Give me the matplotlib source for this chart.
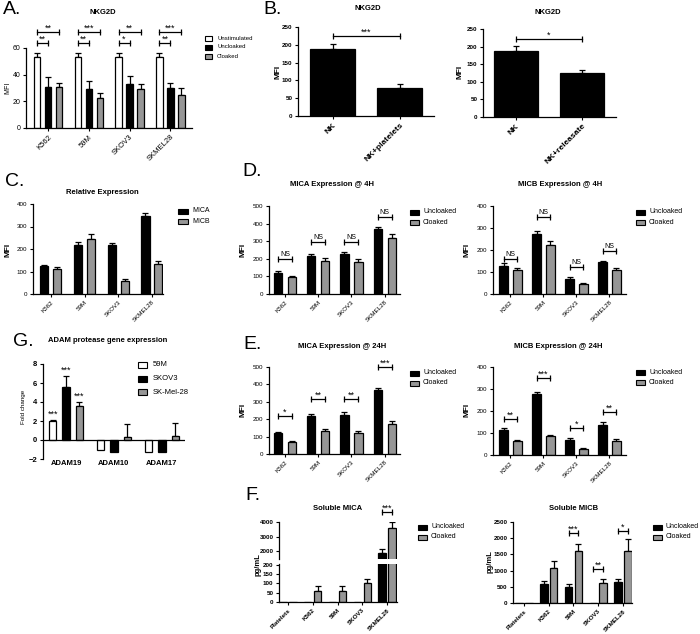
import numpy as np
import matplotlib.pyplot as plt
from matplotlib.patches import Rectangle

plt.rcParams['font.family'] = ['Liberation Sans', 'DejaVu Sans']
plt.rcParams['axes.linewidth'] = 0.9

W, H = 700, 634
GRAY = '#969696'

# ---------------- data ----------------
cells = ['K562', '59M', 'SKOV3', 'SKMEL28']
leg2 = ['Uncloaked', 'Cloaked']

# A. NKG2D
a_unstim = [53, 53, 53, 53]
a_unstim_err = [3.5, 3.5, 3.5, 3.5]
a_uncl = [31, 29.5, 33, 30]
a_uncl_err = [7, 5.5, 6, 3.5]
a_cl = [31, 22.5, 29, 25]
a_cl_err = [3, 4, 4, 5]
a_sig_low = ['**', '**', '*', '**']
a_sig_high = ['**', '***', '**', '***']

# B. NKG2D
b1_cats = ['NK', 'NK+platelets']
b1_vals = [188, 80]
b1_err = [13, 10]
b2_cats = ['NK', 'NK+releasate']
b2_vals = [188, 125]
b2_err = [13, 9]

# C. relative expression
c_mica = [123, 220, 218, 347]
c_mica_err = [7, 12, 10, 15]
c_micb = [112, 245, 60, 132]
c_micb_err = [6, 22, 6, 13]

# D. 4H
d_mica_uncl = [118, 218, 225, 368]
d_mica_uncl_err = [10, 12, 15, 10]
d_mica_cl = [95, 185, 180, 318]
d_mica_cl_err = [7, 18, 17, 25]
d_mica_sig = ['NS', 'NS', 'NS', 'NS']
d_mica_sig_y = [200, 295, 295, 440]
d_micb_uncl = [128, 275, 68, 147]
d_micb_uncl_err = [12, 13, 10, 5]
d_micb_cl = [108, 222, 47, 107]
d_micb_cl_err = [12, 17, 5, 13]
d_micb_sig = ['NS', 'NS', 'NS', 'NS']
d_micb_sig_y = [160, 350, 123, 195]

# E. 24H
e_mica_uncl = [118, 218, 225, 368]
e_mica_uncl_err = [8, 12, 17, 10]
e_mica_cl = [68, 133, 122, 172]
e_mica_cl_err = [8, 12, 8, 15]
e_mica_sig = ['*', '**', '**', '***']
e_mica_sig_y = [218, 316, 316, 500]
e_micb_uncl = [115, 275, 68, 137]
e_micb_uncl_err = [10, 13, 10, 12]
e_micb_cl = [62, 86, 26, 65]
e_micb_cl_err = [5, 5, 4, 8]
e_micb_sig = ['**', '***', '*', '**']
e_micb_sig_y = [164, 350, 123, 195]

# G. ADAM protease gene expression
g_genes = ['ADAM19', 'ADAM10', 'ADAM17']
g_59m = [2.0, -1.1, -1.3]
g_59m_err = [0.1, 0, 0]
g_skov3 = [5.6, -1.3, -1.3]
g_skov3_err = [1.1, 0, 0]
g_skmel = [3.6, 0.3, 0.4]
g_skmel_err = [0.35, 1.35, 1.4]
g_sig = ['***', '', '']

# F. soluble MICA / MICB (pg/mL)
f_cats = ['Platelets', 'K562', '59M', 'SKOV3', 'SKMEL28']
fa_uncl = [0, 0, 0, 0, 1860]
fa_uncl_err = [0, 0, 0, 0, 280]
fa_cl = [0, 60, 60, 103, 3590]
fa_cl_err = [0, 25, 25, 20, 410]
fb_uncl = [0, 586, 494, 0, 648]
fb_uncl_err = [0, 95, 92, 0, 92]
fb_cl = [0, 1080, 1605, 617, 1605]
fb_cl_err = [0, 216, 215, 123, 370]
fb_sig = ['', '', '***', '**', '*']
fb_sig_y = [0, 0, 2160, 1050, 2220]

STAR_FS = 6.5

fig = plt.figure(figsize=(W / 100, H / 100), dpi=100)


def px_ax(x0, x1, y_top, y_bot):
    return fig.add_axes([x0 / W, 1 - y_bot / H, (x1 - x0) / W, (y_bot - y_top) / H])


def ftext(x, y, s, **kw):
    fig.text(x / W, 1 - y / H, s, **kw)


def bar_set(ax, x, vals, errs, color, width):
    x = np.asarray(x, float)
    vals = np.asarray(vals, float)
    errs = np.asarray(errs, float)
    ax.bar(x, vals, width, color=color, edgecolor='black', linewidth=0.9, zorder=2)
    m = errs > 0
    if m.any():
        ax.errorbar(x[m], vals[m], yerr=[np.zeros(m.sum()), errs[m]], fmt='none',
                    ecolor='black', elinewidth=0.9, capsize=2, capthick=0.9, zorder=1)


def bracket(ax, x1, x2, y, label, fs=None):
    if fs is None:
        fs = 5 if label == 'NS' else STAR_FS
    ax.plot([x1, x2], [y, y], color='black', lw=0.9, marker='|', ms=4, mew=0.9,
            clip_on=False, zorder=3)
    ax.annotate(label, ((x1 + x2) / 2, y), xytext=(0, 0.5 if label == 'NS' else -0.5),
                textcoords='offset points', ha='center', va='bottom', fontsize=fs,
                annotation_clip=False)


def style(ax, xlim, ylim, yticks, cats, fs=4.5, xfs=None, bold=False):
    ax.spines[['top', 'right']].set_visible(False)
    ax.set_xlim(xlim)
    ax.set_ylim(ylim)
    ax.set_yticks(yticks)
    ax.tick_params(length=2.5, width=0.8, labelsize=fs, pad=1.5)
    ax.set_xticks(range(len(cats)))
    ax.set_xticklabels(cats, rotation=45, ha='right', va='top', rotation_mode='anchor',
                       fontsize=xfs or fs, fontweight='bold' if bold else 'normal')
    if bold:
        for t in ax.get_yticklabels():
            t.set_fontweight('bold')


def key(x, y, labels, colors, dy=10, fs=5, w=9, h=5, gap=4):
    for i, (lab, c) in enumerate(zip(labels, colors)):
        yc = y + i * dy
        fig.add_artist(Rectangle((x / W, 1 - (yc + h / 2) / H), w / W, h / H,
                                 transform=fig.transFigure, facecolor=c,
                                 edgecolor='black', lw=0.8))
        ftext(x + w + gap, yc, lab, fontsize=fs, va='center', ha='left')


def pair_panel(ax, uncl, uncl_err, cl, cl_err, sig, sig_y, xlim, ylim, yticks, off=0.21, w=0.25):
    x = np.arange(len(uncl))
    bar_set(ax, x - off, uncl, uncl_err, 'black', w)
    bar_set(ax, x + off, cl, cl_err, GRAY, w)
    style(ax, xlim, ylim, yticks, cells)
    for i in range(len(sig)):
        if sig[i]:
            bracket(ax, i - off, i + off, sig_y[i], sig[i])


# ---------------- A ----------------
ax = px_ax(26, 192, 48, 128)
x = np.arange(4)
bar_set(ax, x - 0.27, a_unstim, a_unstim_err, 'white', 0.16)
bar_set(ax, x, a_uncl, a_uncl_err, 'black', 0.16)
bar_set(ax, x + 0.27, a_cl, a_cl_err, GRAY, 0.16)
style(ax, (-0.54, 3.53), (0, 60), [0, 20, 40, 60], cells, fs=5, xfs=5.5)
for i in range(4):
    bracket(ax, i - 0.27, i, 63.5, a_sig_low[i])
    bracket(ax, i - 0.27, i + 0.27, 72, a_sig_high[i])
ftext(103, 13, 'NKG2D', fontsize=5.5, fontweight='bold', ha='center', va='center')
ftext(8, 88, 'MFI', fontsize=5, rotation=90, ha='center', va='center')
key(205, 38, ['Unstimulated', 'Uncloaked', 'Cloaked'], ['white', 'black', GRAY],
    dy=9, fs=4.3, w=7, h=5, gap=5)

# ---------------- B ----------------
ax = px_ax(298, 434, 27, 116)
bar_set(ax, [0, 1], b1_vals, b1_err, 'black', 0.67)
style(ax, (-0.52, 1.51), (0, 250), range(0, 251, 50), b1_cats, fs=4.5, xfs=6, bold=True)
bracket(ax, 0, 1, 225, '***')
ftext(368, 9, 'NKG2D', fontsize=5.5, fontweight='bold', ha='center', va='center')
ftext(278, 72, 'MFI', fontsize=6, fontweight='bold', rotation=90, ha='center', va='center')

ax = px_ax(483, 616, 29, 117)
bar_set(ax, [0, 1], b2_vals, b2_err, 'black', 0.67)
style(ax, (-0.5, 1.52), (0, 250), range(0, 251, 50), b2_cats, fs=4.5, xfs=6, bold=True)
bracket(ax, 0, 1, 221, '*')
ftext(548, 12, 'NKG2D', fontsize=5.5, fontweight='bold', ha='center', va='center')
ftext(460, 72, 'MFI', fontsize=6, fontweight='bold', rotation=90, ha='center', va='center')

# ---------------- C ----------------
ax = px_ax(33, 163, 204, 294)
x = np.arange(4)
bar_set(ax, x - 0.19, c_mica, c_mica_err, 'black', 0.24)
bar_set(ax, x + 0.19, c_micb, c_micb_err, GRAY, 0.24)
style(ax, (-0.53, 3.33), (0, 400), range(0, 401, 100), cells)
ftext(102, 192, 'Relative Expression', fontsize=5.5, fontweight='bold', ha='center', va='center')
ftext(8, 250, 'MFI', fontsize=6, fontweight='bold', rotation=90, ha='center', va='center')
key(178, 211, ['MICA', 'MICB'], ['black', GRAY], dy=10.5, fs=5, w=10)

# ---------------- D ----------------
ax = px_ax(269, 400, 206, 294)
pair_panel(ax, d_mica_uncl, d_mica_uncl_err, d_mica_cl, d_mica_cl_err, d_mica_sig,
           d_mica_sig_y, (-0.48, 3.46), (0, 500), range(0, 501, 100))
ftext(332, 185, 'MICA Expression @ 4H', fontsize=5.5, fontweight='bold', ha='center', va='center')
ftext(243, 250, 'MFI', fontsize=6, fontweight='bold', rotation=90, ha='center', va='center')
key(410, 212, leg2, ['black', GRAY])

ax = px_ax(493, 626, 206, 294)
pair_panel(ax, d_micb_uncl, d_micb_uncl_err, d_micb_cl, d_micb_cl_err, d_micb_sig,
           d_micb_sig_y, (-0.53, 3.5), (0, 400), range(0, 401, 100))
ftext(560, 185, 'MICB Expression @ 4H', fontsize=5.5, fontweight='bold', ha='center', va='center')
ftext(467, 250, 'MFI', fontsize=6, fontweight='bold', rotation=90, ha='center', va='center')
key(636, 212, leg2, ['black', GRAY])

# ---------------- E ----------------
ax = px_ax(269, 400, 367, 454)
pair_panel(ax, e_mica_uncl, e_mica_uncl_err, e_mica_cl, e_mica_cl_err, e_mica_sig,
           e_mica_sig_y, (-0.48, 3.46), (0, 500), range(0, 501, 100))
ftext(342, 346, 'MICA Expression @ 24H', fontsize=5.5, fontweight='bold', ha='center', va='center')
ftext(243, 410, 'MFI', fontsize=6, fontweight='bold', rotation=90, ha='center', va='center')
key(410, 373, leg2, ['black', GRAY])

ax = px_ax(493, 626, 367, 455)
pair_panel(ax, e_micb_uncl, e_micb_uncl_err, e_micb_cl, e_micb_cl_err, e_micb_sig,
           e_micb_sig_y, (-0.53, 3.5), (0, 400), range(0, 401, 100))
ftext(558, 346, 'MICB Expression @ 24H', fontsize=5.5, fontweight='bold', ha='center', va='center')
ftext(467, 410, 'MFI', fontsize=6, fontweight='bold', rotation=90, ha='center', va='center')
key(636, 372, leg2, ['black', GRAY])

# ---------------- G ----------------
ax = px_ax(43, 185, 364, 459)
x = np.arange(3)
bar_set(ax, x - 0.28, g_59m, g_59m_err, 'white', 0.16)
bar_set(ax, x, g_skov3, g_skov3_err, 'black', 0.16)
bar_set(ax, x + 0.28, g_skmel, g_skmel_err, GRAY, 0.16)
ax.axhline(0, color='black', lw=0.9, zorder=3)
ax.spines[['top', 'right', 'bottom']].set_visible(False)
ax.set_xlim(-0.48, 2.48)
ax.set_ylim(-2, 8)
ax.set_yticks(range(-2, 9, 2))
ax.tick_params(length=2.5, width=0.8, labelsize=5.5, pad=1.5)
ax.tick_params(axis='x', length=0, pad=1)
ax.set_xticks(x)
ax.set_xticklabels(g_genes, fontsize=5.5, fontweight='bold')
for t in ax.get_yticklabels():
    t.set_fontweight('bold')
for i in range(3):
    if g_sig[i]:
        for off, v, e in [(-0.28, g_59m, g_59m_err), (0, g_skov3, g_skov3_err),
                          (0.28, g_skmel, g_skmel_err)]:
            ax.annotate(g_sig[i], (i + off, v[i] + e[i]), xytext=(0, 1),
                        textcoords='offset points', ha='center', va='bottom', fontsize=STAR_FS)
ftext(48, 340, 'ADAM protease gene expression', fontsize=5.5, fontweight='bold', ha='left', va='center')
ftext(24, 407, 'Fold change', fontsize=4.5, rotation=90, ha='center', va='center')
key(138, 365, ['59M', 'SKOV3', 'SK-Mel-28'], ['white', 'black', GRAY], dy=13.5, fs=5.5, w=9, h=6, gap=6)

# ---------------- F (broken axis for MICA) ----------------
xf = np.arange(5)
lo = px_ax(279, 397, 564, 602)
hi = px_ax(279, 397, 522, 559)
for a in (lo, hi):
    bar_set(a, xf - 0.2, fa_uncl, fa_uncl_err, 'black', 0.3)
    bar_set(a, xf + 0.2, fa_cl, fa_cl_err, GRAY, 0.3)
style(lo, (-0.36, 4.4), (0, 205), range(0, 201, 50), f_cats, bold=True)
style(hi, (-0.36, 4.4), (1450, 4000), [2000, 3000, 4000], f_cats, bold=True)
hi.spines['bottom'].set_visible(False)
hi.set_xticks([])
bracket(hi, 4 - 0.2, 4 + 0.2, 4690, '***')
ftext(338, 509, 'Soluble MICA', fontsize=5.5, fontweight='bold', ha='center', va='center')
ftext(258, 565, 'pg/mL', fontsize=5.5, fontweight='bold', rotation=90, ha='center', va='center')
key(418, 527, leg2, ['black', GRAY])

ax = px_ax(513, 632, 522, 603)
bar_set(ax, xf - 0.2, fb_uncl, fb_uncl_err, 'black', 0.3)
bar_set(ax, xf + 0.2, fb_cl, fb_cl_err, GRAY, 0.3)
style(ax, (-0.45, 4.37), (0, 2500), range(0, 2501, 500), f_cats, bold=True)
for i in range(5):
    if fb_sig[i]:
        bracket(ax, i - 0.2, i + 0.2, fb_sig_y[i], fb_sig[i])
ftext(574, 509, 'Soluble MICB', fontsize=5.5, fontweight='bold', ha='center', va='center')
ftext(490, 562, 'pg/mL', fontsize=5.5, fontweight='bold', rotation=90, ha='center', va='center')
key(653, 527, leg2, ['black', GRAY])

# ---------------- panel letters ----------------
for lx, ly, s in [(3, 10, 'A.'), (263, 10, 'B.'), (5, 181, 'C.'), (242, 171, 'D.'),
                  (243, 345, 'E.'), (245, 495, 'F.'), (13, 341, 'G.')]:
    ftext(lx, ly, s, fontsize=14, ha='left', va='center')

fig.savefig('out.png', dpi=100)
